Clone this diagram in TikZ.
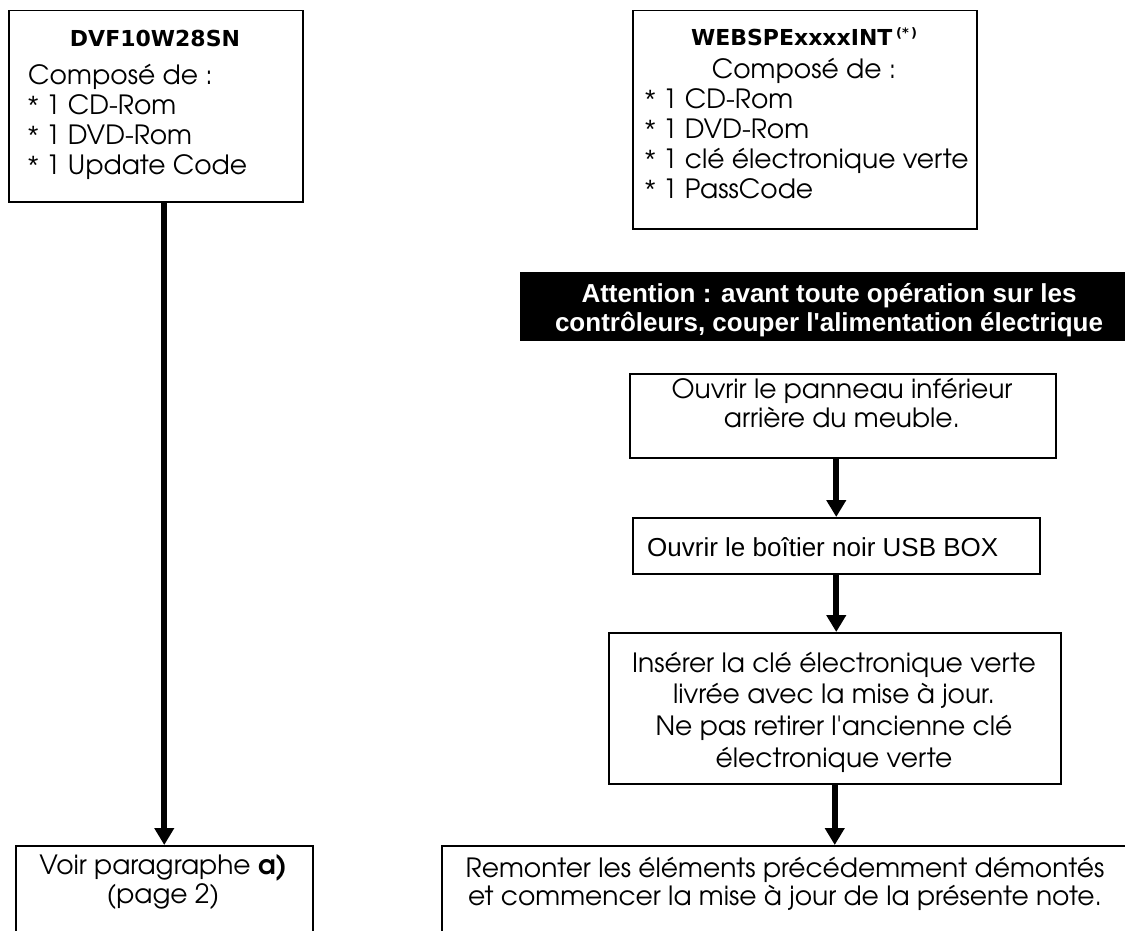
\documentclass[tikz,border=0pt]{standalone}
\usepackage{fontspec}
\newfontfamily\cg{TeX Gyre Adventor}
\newfontfamily\ar{Liberation Sans}
\newfontfamily\dv{DejaVu Sans}
\newcommand\stx{{\ar *}}
\usetikzlibrary{arrows.meta}
\begin{document}
\begin{tikzpicture}[x=1pt,y=-1pt,
  box/.style={draw, line width=1.5pt, inner sep=0pt, anchor=north west},
  txt/.style={inner sep=0pt, anchor=base west},
  ctxt/.style={inner sep=0pt, anchor=base},
  arr/.style={line width=6pt, -{Triangle[length=17pt,width=19pt]}},
  cgf/.style={font=\cg\fontsize{26.5}{30}\selectfont},
  ttl/.style={font=\dv\bfseries\fontsize{22}{26}\selectfont},
  warntxt/.style={ctxt, text=white, font=\ar\bfseries\fontsize{26}{29}\selectfont},
]
\useasboundingbox (0,0) rectangle (1125,931);
\begin{scope}
\clip (0,0) rectangle (1125,931);
% boxes
\node[box, minimum width=294pt, minimum height=191pt] (b1) at (8,10) {};
\node[box, minimum width=344pt, minimum height=218pt] (b2) at (632,10) {};
\node[box, minimum width=426pt, minimum height=84pt] (b3) at (629,373) {};
\node[box, minimum width=407pt, minimum height=56pt] (b4) at (632,517) {};
\node[box, minimum width=452pt, minimum height=151pt] (b5) at (608,632) {};
\node[box, minimum width=686pt, minimum height=140pt] (b6) at (441,845) {};
\node[box, minimum width=297pt, minimum height=140pt] (b7) at (15,845) {};
\node[fill=black, inner sep=0pt, anchor=north west, minimum width=605pt, minimum height=69pt] (warn) at (520,272) {};

% box 1 text
\node[ctxt, ttl] (t1) at (155,47) {DVF10W28SN};
\node[txt, cgf] (t1a) at (28,85) {Composé de :};
\node[txt, cgf] (t1b) at (28,115) {\stx\ 1 CD-Rom};
\node[txt, cgf] (t1c) at (28,145) {\stx\ 1 DVD-Rom};
\node[txt, cgf] (t1d) at (28,175) {\stx\ 1 Update Code};

% box 2 text
\node[ctxt, ttl] (t2) at (804,46) {WEBSPExxxxINT\,\raisebox{8pt}{\fontsize{13}{13}\selectfont(*\,)}};
\node[ctxt, cgf] (t2a) at (804,79) {Composé de :};
\node[txt, cgf] (t2b) at (645,109) {\stx\ 1 CD-Rom};
\node[txt, cgf] (t2c) at (645,139) {\stx\ 1 DVD-Rom};
\node[txt, cgf] (t2d) at (645,169) {\stx\ 1 clé électronique verte};
\node[txt, cgf] (t2e) at (645,199) {\stx\ 1 PassCode};

% warning banner
\node[warntxt] (w1) at (829,302) {Attention : avant toute opération sur les};
\node[warntxt] (w2) at (829,331) {contrôleurs, couper l'alimentation électrique};

% box 3
\node[ctxt, cgf] (t3a) at (842,398) {Ouvrir le panneau inférieur};
\node[ctxt, cgf] (t3b) at (842,427) {arrière du meuble.};

% box 4
\node[txt, font=\ar\fontsize{26}{30}\selectfont] (t4) at (647,556) {Ouvrir le boîtier noir USB BOX};

% box 5
\node[ctxt, cgf] (t5a) at (834,672) {Insérer la clé électronique verte};
\node[ctxt, cgf] (t5b) at (834,703) {livrée avec la mise à jour.};
\node[ctxt, cgf] (t5c) at (834,735) {Ne pas retirer l'ancienne clé};
\node[ctxt, cgf] (t5d) at (834,767) {électronique verte};

% box 6
\node[ctxt, cgf] (t6a) at (785,877) {Remonter les éléments précédemment démontés};
\node[ctxt, cgf] (t6b) at (785,905) {et commencer la mise à jour de la présente note.};

% box 7
\node[ctxt, cgf] (t7a) at (163,874) {Voir paragraphe {\bfseries a)}};
\node[ctxt, cgf] (t7b) at (163,903) {(page 2)};

% arrows
\draw[arr] (b1.south -| b7.north) -- (b7.north);
\draw[arr] (b3.south -| b4.north) -- (b4.north);
\draw[arr] (b4.south) -- (b4.south |- b5.north);
\draw[arr] (b5.south) -- (b5.south |- b6.north);
\end{scope}
\end{tikzpicture}
\end{document}
